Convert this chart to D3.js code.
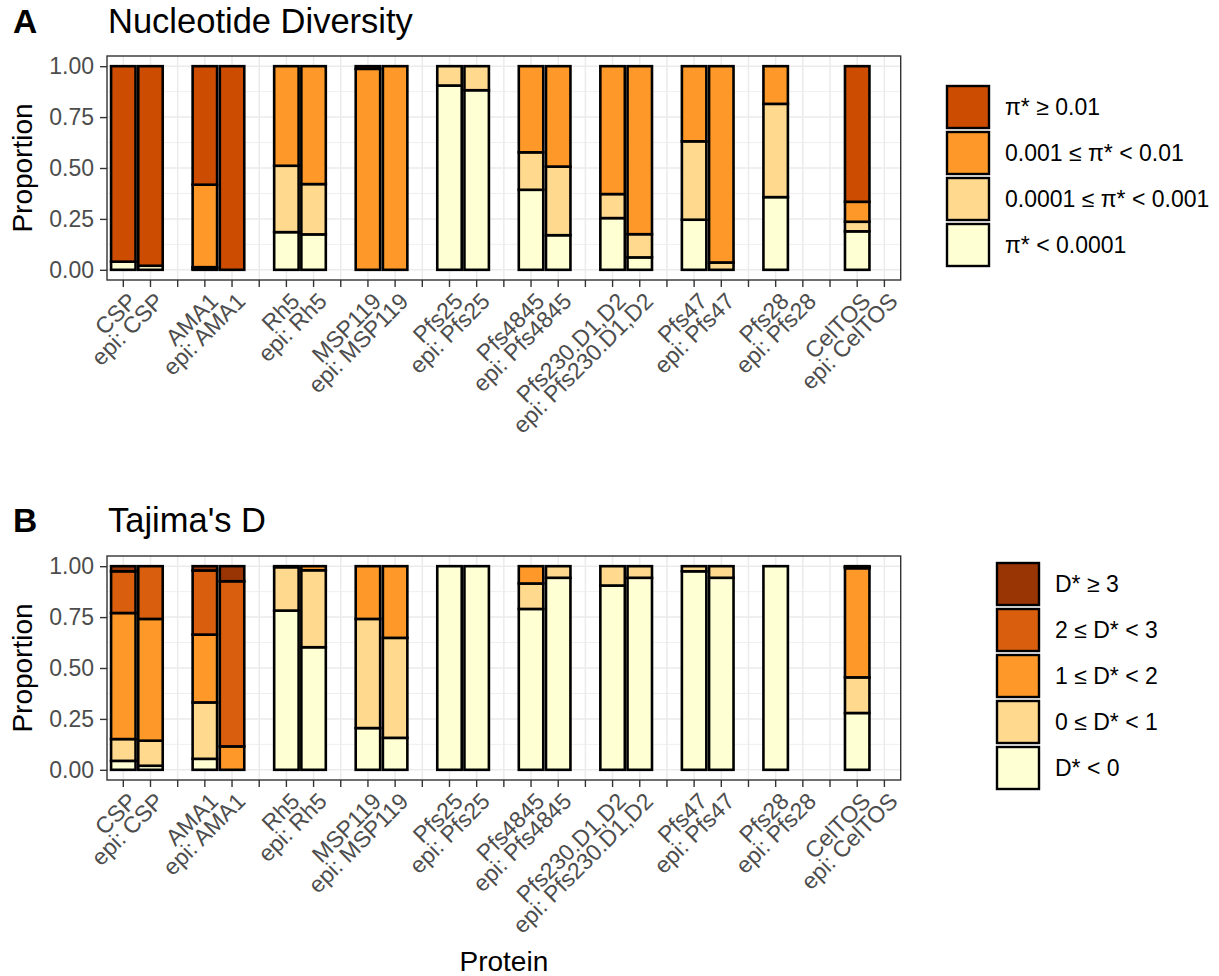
<!DOCTYPE html>
<html>
<head>
<meta charset="utf-8">
<script src="https://cdn.jsdelivr.net/npm/d3@7"></script>
<style>
  body { margin: 0; background: #fff; }
  text { font-family: "Liberation Sans", Arial, Helvetica, sans-serif; }
</style>
</head>
<body>
<svg id="chart" width="1219" height="976"></svg>
<script>
// proteins in plotting order (pairs: full protein, epitope region)
const proteins = [
  'CSP', 'epi: CSP', 'AMA1', 'epi: AMA1', 'Rh5', 'epi: Rh5', 'MSP119', 'epi: MSP119',
  'Pfs25', 'epi: Pfs25', 'Pfs4845', 'epi: Pfs4845', 'Pfs230.D1,D2', 'epi: Pfs230.D1,D2',
  'Pfs47', 'epi: Pfs47', 'Pfs28', 'epi: Pfs28', 'CelTOS', 'epi: CelTOS'
];

// Panel A: nucleotide diversity classes, bottom to top
const piLevels = ['π* < 0.0001', '0.0001 ≤ π* < 0.001', '0.001 ≤ π* < 0.01', 'π* ≥ 0.01'];
const piColors = ['#FFFFD4', '#FED98E', '#FE9929', '#CC4C02'];
const piBelow00001 = [0.04, 0.02, 0.005, 0, 0.185, 0.174, 0, 0, 0.905, 0.882, 0.393, 0.17, 0.254, 0.061, 0.246, 0, 0.357, 0, 0.189, 0];
const pi00001to0001 = [0, 0, 0.008, 0, 0.326, 0.247, 0, 0, 0.095, 0.118, 0.184, 0.337, 0.118, 0.114, 0.385, 0.036, 0.458, 0, 0.047, 0];
const pi0001to001 = [0, 0, 0.405, 0, 0.489, 0.579, 0.987, 1, 0, 0, 0.423, 0.493, 0.628, 0.825, 0.369, 0.964, 0.185, 0, 0.098, 0];
const piAbove001 = [0.96, 0.98, 0.582, 1, 0, 0, 0.013, 0, 0, 0, 0, 0, 0, 0, 0, 0, 0, 0, 0.666, 0];

// Panel B: Tajima's D classes, bottom to top
const dLevels = ['D* < 0', '0 ≤ D* < 1', '1 ≤ D* < 2', '2 ≤ D* < 3', 'D* ≥ 3'];
const dColors = ['#FFFFD4', '#FED98E', '#FE9929', '#D95F0E', '#993404'];
const dBelow0 = [0.044, 0.02, 0.054, 0, 0.782, 0.602, 0.205, 0.157, 1, 1, 0.79, 0.943, 0.905, 0.943, 0.975, 0.943, 1, 0, 0.279, 0];
const d0to1 = [0.107, 0.123, 0.277, 0, 0.213, 0.378, 0.536, 0.491, 0, 0, 0.125, 0.057, 0.095, 0.057, 0.025, 0.057, 0, 0, 0.175, 0];
const d1to2 = [0.619, 0.598, 0.333, 0.115, 0.005, 0.02, 0.259, 0.352, 0, 0, 0.085, 0, 0, 0, 0, 0, 0, 0, 0.536, 0];
const d2to3 = [0.205, 0.259, 0.315, 0.811, 0, 0, 0, 0, 0, 0, 0, 0, 0, 0, 0, 0, 0, 0, 0.007, 0];
const dAbove3 = [0.025, 0, 0.021, 0.074, 0, 0, 0, 0, 0, 0, 0, 0, 0, 0, 0, 0, 0, 0, 0.003, 0];

const yTicks = [0, 0.25, 0.5, 0.75, 1];
const yMinor = [0.125, 0.375, 0.625, 0.875];

// x categories: an empty slot after every pair (unique blank keys)
const categories = proteins.flatMap((p, i) =>
  (i % 2 === 1 && i < proteins.length - 1) ? [p, ' '.repeat(i)] : [p]);

const svg = d3.select('#chart');
const left = 107, right = 900.7, panelH = 224;
const smallFont = '23px';

const x = d3.scaleBand()
  .domain(categories)
  .range([left, right])
  .paddingInner(0.1)
  .paddingOuter(0.15);

function drawPanel(opt) {
  const top = opt.top;
  const bottom = top + panelH;
  const y = d3.scaleLinear().domain([-0.05, 1.05]).range([bottom, top]);
  const g = svg.append('g');

  // grid
  g.selectAll('.minor').data(yMinor).enter().append('line')
    .attr('x1', left).attr('x2', right)
    .attr('y1', d => y(d)).attr('y2', d => y(d))
    .attr('stroke', '#EBEBEB').attr('stroke-width', 0.8);
  g.selectAll('.majorY').data(yTicks).enter().append('line')
    .attr('x1', left).attr('x2', right)
    .attr('y1', d => y(d)).attr('y2', d => y(d))
    .attr('stroke', '#EBEBEB').attr('stroke-width', 1.5);
  g.selectAll('.majorX').data(categories).enter().append('line')
    .attr('x1', d => x(d) + x.bandwidth() / 2).attr('x2', d => x(d) + x.bandwidth() / 2)
    .attr('y1', top).attr('y2', bottom)
    .attr('stroke', '#EBEBEB').attr('stroke-width', 1.5);

  // stacked bars
  const rows = proteins.map((p, i) => {
    const r = {protein: p};
    opt.levels.forEach((lev, k) => { r[lev] = opt.series[k][i]; });
    return r;
  });
  const stacked = d3.stack().keys(opt.levels)(rows);

  stacked.forEach((layer, k) => {
    g.append('g').selectAll('rect')
      .data(layer.filter(d => d[1] - d[0] > 0))
      .enter().append('rect')
      .attr('x', d => x(d.data.protein))
      .attr('width', x.bandwidth())
      .attr('y', d => y(d[1]))
      .attr('height', d => y(d[0]) - y(d[1]))
      .attr('fill', opt.colors[k])
      .attr('stroke', '#000')
      .attr('stroke-width', 2.6);
  });

  // panel border
  g.append('rect')
    .attr('x', left).attr('y', top)
    .attr('width', right - left).attr('height', panelH)
    .attr('fill', 'none').attr('stroke', '#333333').attr('stroke-width', 1.4);

  // axes
  const yAxis = g.append('g')
    .attr('transform', `translate(${left},0)`)
    .call(d3.axisLeft(y).tickValues(yTicks).tickFormat(d3.format('.2f')).tickSize(7).tickPadding(6));
  yAxis.select('.domain').remove();
  yAxis.selectAll('line').attr('stroke', '#333333').attr('stroke-width', 1.4);
  yAxis.selectAll('text').attr('fill', '#4D4D4D').style('font-size', smallFont)
    .style('font-family', '"Liberation Sans", Arial, sans-serif');

  const xAxis = g.append('g')
    .attr('transform', `translate(0,${bottom})`)
    .call(d3.axisBottom(x).tickSize(7).tickSizeOuter(0).tickFormat(d => d.trim()));
  xAxis.select('.domain').remove();
  xAxis.selectAll('line').attr('stroke', '#333333').attr('stroke-width', 1.4);
  xAxis.selectAll('text')
    .attr('fill', '#4D4D4D')
    .style('font-size', smallFont)
    .style('font-family', '"Liberation Sans", Arial, sans-serif')
    .attr('text-anchor', 'end')
    .attr('x', 0).attr('y', 0).attr('dy', '0.72em')
    .attr('transform', 'translate(3,11) rotate(-45)');

  // y title
  g.append('text')
    .attr('transform', `translate(32,${(top + bottom) / 2}) rotate(-90)`)
    .attr('text-anchor', 'middle')
    .style('font-size', '28px')
    .text('Proportion');

  // tag and title
  g.append('text').attr('x', 13).attr('y', opt.titleY)
    .style('font-size', '33.6px').style('font-weight', 'bold').text(opt.tag);
  g.append('text').attr('x', 108).attr('y', opt.titleY)
    .style('font-size', '34.5px').text(opt.title);

  // legend, highest class on top
  const lg = g.append('g');
  const legendItems = opt.levels.map((lev, k) => ({label: lev, color: opt.colors[k]})).reverse();
  legendItems.forEach((it, i) => {
    const ky = opt.legendTop + i * 46;
    lg.append('rect')
      .attr('x', opt.legendX).attr('y', ky)
      .attr('width', 42).attr('height', 42)
      .attr('fill', it.color).attr('stroke', '#000').attr('stroke-width', 2.4);
    lg.append('text')
      .attr('x', opt.legendX + 58).attr('y', ky + 21)
      .attr('dy', '0.36em')
      .style('font-size', smallFont)
      .text(it.label);
  });
}

drawPanel({
  top: 56, tag: 'A', title: 'Nucleotide Diversity', titleY: 33,
  levels: piLevels, colors: piColors,
  series: [piBelow00001, pi00001to0001, pi0001to001, piAbove001],
  legendX: 947, legendTop: 86
});

drawPanel({
  top: 556, tag: 'B', title: "Tajima's D", titleY: 532,
  levels: dLevels, colors: dColors,
  series: [dBelow0, d0to1, d1to2, d2to3, dAbove3],
  legendX: 997, legendTop: 563
});

svg.append('text')
  .attr('x', (left + right) / 2).attr('y', 971)
  .attr('text-anchor', 'middle')
  .style('font-size', '28px')
  .text('Protein');
</script>
</body>
</html>
